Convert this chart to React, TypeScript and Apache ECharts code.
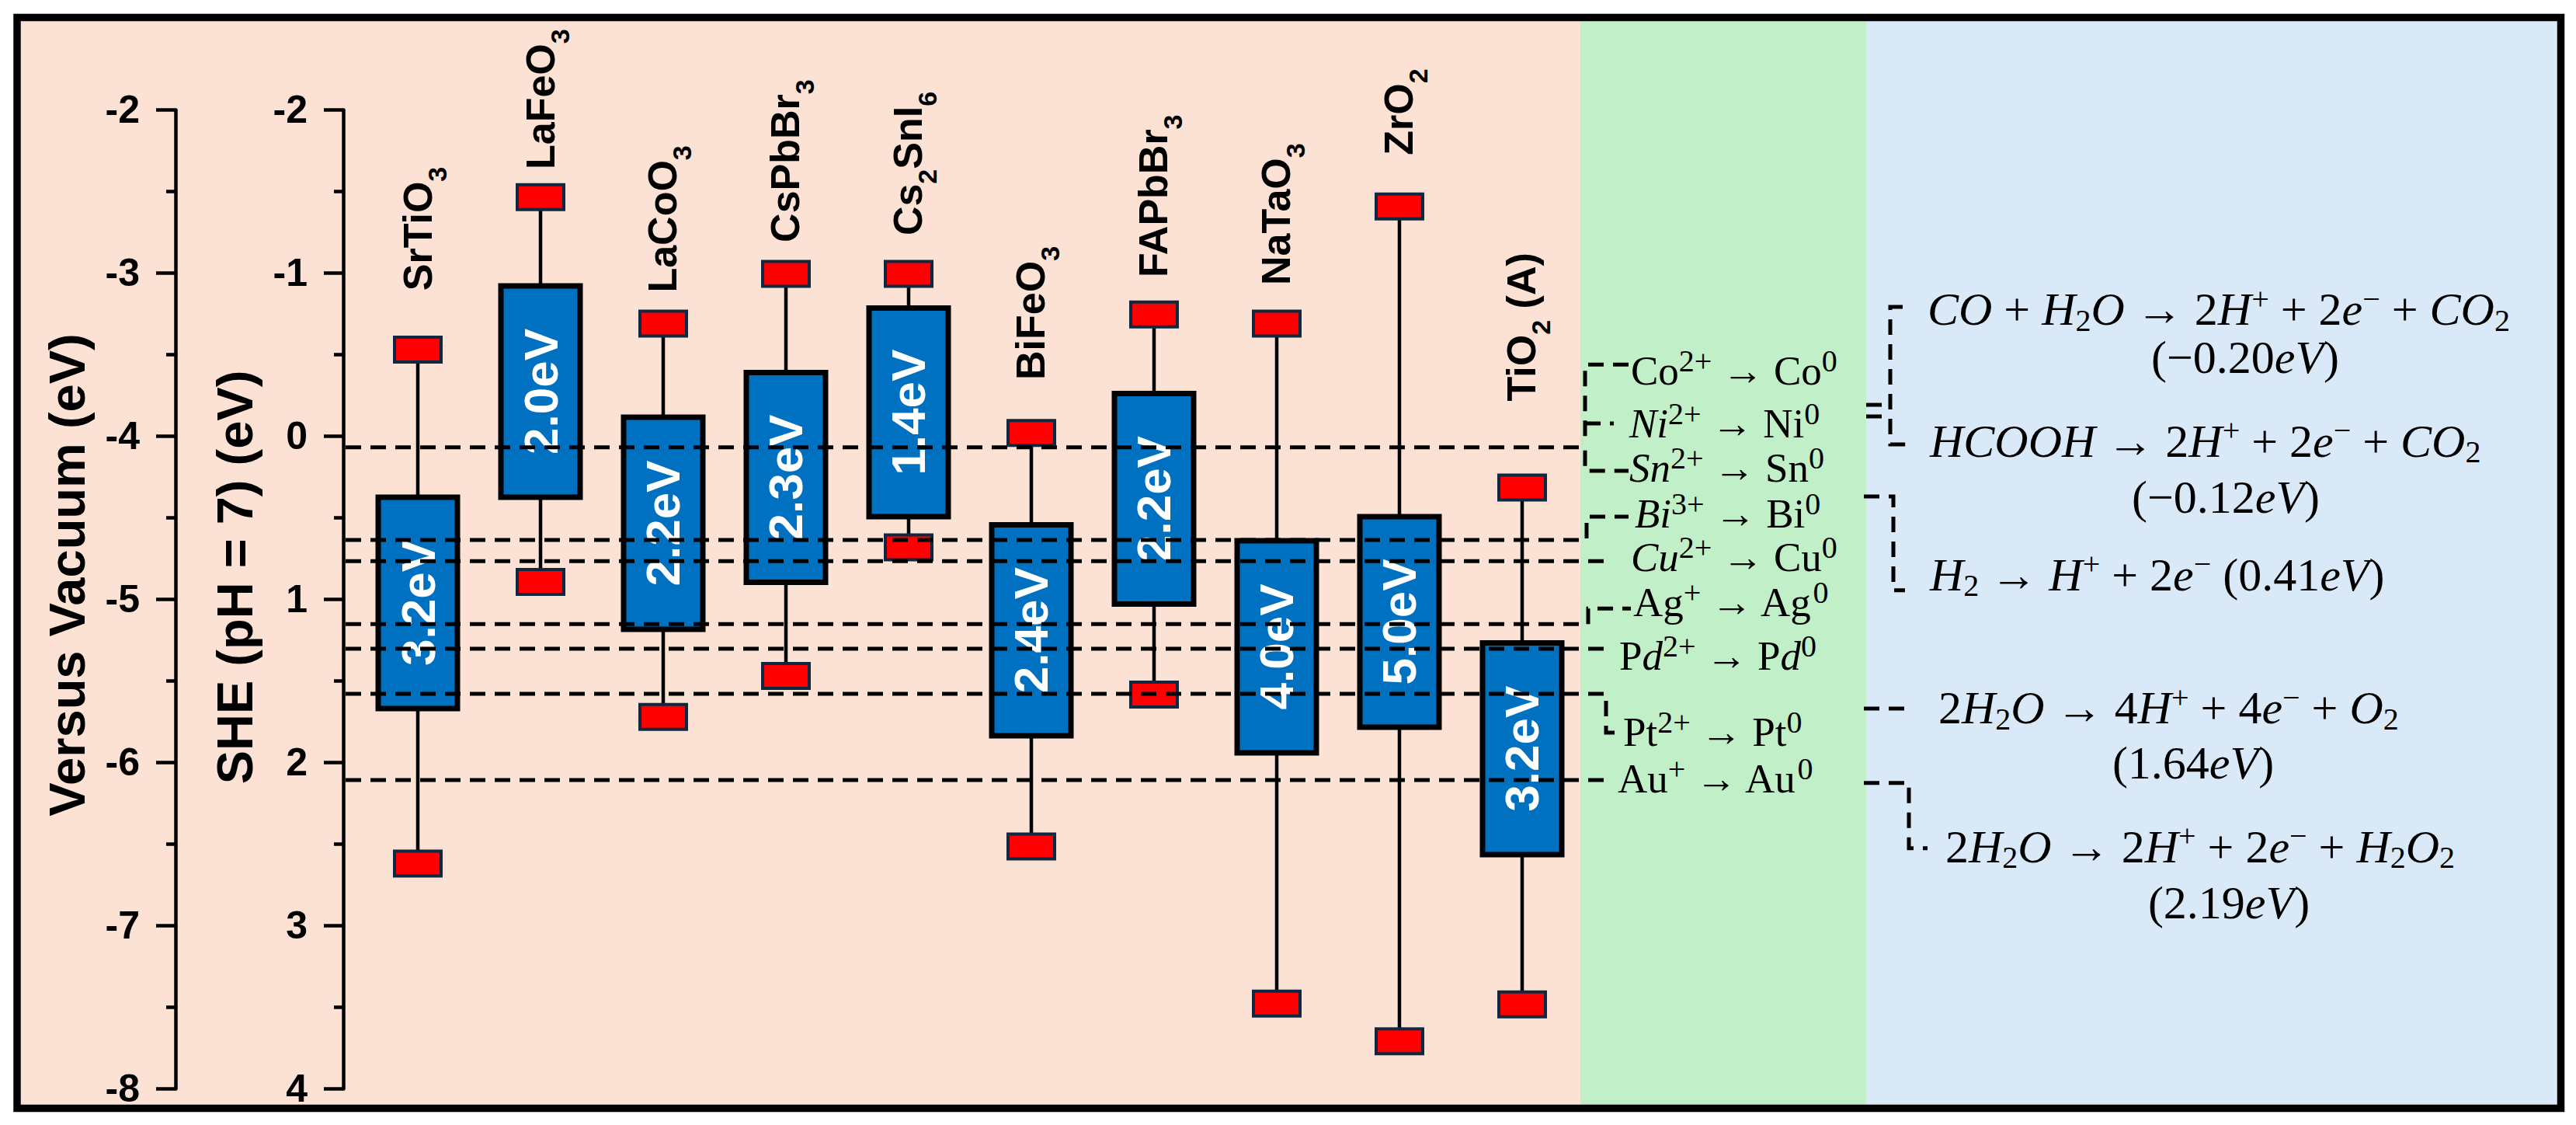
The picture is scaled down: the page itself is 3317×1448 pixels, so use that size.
import React, { useEffect, useRef } from 'react';
import * as echarts from 'echarts';

// ---------------- data (potentials in V vs SHE, pH = 7) ----------------
const CATEGORIES = ['SrTiO3', 'LaFeO3', 'LaCoO3', 'CsPbBr3', 'Cs2SnI6', 'BiFeO3', 'FAPbBr3', 'NaTaO3', 'ZrO2', 'TiO2 (A)'];
const GAP_LABELS = ['3.2eV', '2.0eV', '2.2eV', '2.3eV', '1.4eV', '2.4eV', '2.2eV', '4.0eV', '5.0eV', '3.2eV'];
// upper red marker
const EDGE_TOP = [-0.53, -1.465, -0.69, -0.995, -0.995, -0.02, -0.746, -0.69, -1.408, 0.315];
// blue box limits
const BOX_TOP = [0.374, -0.921, -0.116, -0.39, -0.785, 0.543, -0.261, 0.641, 0.493, 1.267];
const BOX_BOTTOM = [1.67, 0.374, 1.184, 0.896, 0.493, 1.836, 1.029, 1.941, 1.784, 2.565];
// lower red marker
const EDGE_BOTTOM = [2.62, 0.893, 1.721, 1.47, 0.681, 2.515, 1.584, 3.478, 3.709, 3.483];

const SHE_MIN = -2;
const SHE_MAX = 4;
const VAC_MIN = -8;
const VAC_MAX = -2;
const TICK_STEP = 1;

// dashed levels of the metal reduction couples (groups: Co/Ni/Sn, Bi, Cu, Ag, Pd, Pt, Au)
const COUPLE_LEVELS = [0.068, 0.636, 0.766, 1.152, 1.303, 1.579, 2.108];
const METAL_COUPLES = [
  '{m|Co}{p|2+}{m| → Co}{p|0}',
  '{i|Ni}{p|2+}{m| → Ni}{p|0}',
  '{i|Sn}{p|2+}{m| → Sn}{p|0}',
  '{i|Bi}{p|3+}{m| → Bi}{p|0}',
  '{i|Cu}{p|2+}{m| → Cu}{p|0}',
  '{m|Ag}{p|+}{m| → Ag}{p|0}',
  '{m|P}{i|d}{p|2+}{m| → P}{i|d}{p|0}',
  '{m|Pt}{p|2+}{m| → Pt}{p|0}',
  '{m|Au}{p|+}{m| → Au}{p|0}',
];

// oxidation half reactions (CO, HCOOH, H2, O2, H2O2) and the dashed levels leading to them
const REACTION_LEVELS = [-0.192, -0.121, 0.369, 1.669, 2.126];
const REACTIONS = [
  '{i|CO}{m| + }{i|H}{b|2}{i|O}{m| → 2}{i|H}{p|+}{m| + 2}{i|e}{p|−}{m| + }{i|CO}{b|2}',
  '{i|HCOOH}{m| → 2}{i|H}{p|+}{m| + 2}{i|e}{p|−}{m| + }{i|CO}{b|2}',
  '{i|H}{b|2}{m| → }{i|H}{p|+}{m| + 2}{i|e}{p|−}{m| (0.41}{i|eV}{m|)}',
  '{m|2}{i|H}{b|2}{i|O}{m| → 4}{i|H}{p|+}{m| + 4}{i|e}{p|−}{m| + }{i|O}{b|2}',
  '{m|2}{i|H}{b|2}{i|O}{m| → 2}{i|H}{p|+}{m| + 2}{i|e}{p|−}{m| + }{i|H}{b|2}{i|O}{b|2}',
];
const REACTION_POTENTIALS = ['{m|(−0.20}{i|eV}{m|)}', '{m|(−0.12}{i|eV}{m|)}', '', '{m|(1.64}{i|eV}{m|)}', '{m|(2.19}{i|eV}{m|)}'];

// ---------------- layout ----------------
const WIDTH = 3317;
const HEIGHT = 1448;
const GRID_LEFT = 442;
const GRID_TOP = 141.4;
const GRID_W = 1593;
const GRID_H = 1260;
const X_MIN = -0.6076;
const X_MAX = 9.4747;
const VAC_AXIS_OFFSET = 216;
const PINK_END = 2035;
const GREEN_END = 2403;
const LABEL_BASE = [-0.891, -1.635, -0.88, -1.188, -1.23, -0.345, -0.973, -0.926, -1.722, -0.214];

const METAL_X = [2100, 2098, 2098, 2105, 2100, 2103, 2085, 2090, 2083];
const METAL_BASE = [-0.316, 0.006, 0.278, 0.559, 0.828, 1.104, 1.43, 1.898, 2.183];
// route of each couple line after it leaves the axis: [x px, SHE or null = own level]
const COUPLE_ROUTES: Array<Array<[number, number | null]>> = [
  [[2041, null], [2041, 0.212], [2097, 0.212]],
  [[2043, null], [2043, 0.493], [2097, 0.493]],
  [[2072, null]],
  [[2045, null], [2045, 1.057], [2100, 1.057]],
  [[2072, null]],
  [[2068, null], [2068, 1.817], [2090, 1.817]],
  [[2072, null]],
];
const METAL_BRACKETS: Array<Array<[number, number]>> = [
  [[2097, -0.439], [2041, -0.439], [2041, 0.008]],
  [[2041, -0.078], [2078, -0.078]],
];
const REACTION_ROUTES: Array<Array<[number, number | null]>> = [
  [[2403, null], [2423, null]],
  [[2403, null], [2423, null]],
  [[2400, null], [2438, null], [2438, 0.945], [2453, 0.945]],
  [[2400, null], [2453, null]],
  [[2400, null], [2458, null], [2458, 2.526], [2482, 2.526]],
];
const REACTION_BRACKETS: Array<Array<[number, number]>> = [
  [[2450, -0.792], [2434, -0.792], [2434, 0.05], [2455, 0.05]],
];
const REACTION_X = [2482, 2485, 2485, 2496, 2505];
const REACTION_BASE = [-0.681, 0.127, 0.946, 1.763, 2.612];
const POTENTIAL_CX = [2891, 2866, 0, 2824, 2870];
const POTENTIAL_BASE = [-0.385, 0.47, 0, 2.098, 2.955];

const SANS = 'Liberation Sans';
const SERIF = 'Liberation Serif';

const toRichFormula = (name: string) =>
  name
    .split(/(\d+)/)
    .filter((p) => p.length > 0)
    .map((p) => (/^\d+$/.test(p) ? `{s|${p}}` : `{m|${p}}`))
    .join('');

const labelRich = {
  m: { fontFamily: SANS, fontWeight: 'bold', fontSize: 52, lineHeight: 52, padding: [0, 0, 16, 0], verticalAlign: 'bottom', fill: '#000' },
  s: { fontFamily: SANS, fontWeight: 'bold', fontSize: 34, lineHeight: 34, verticalAlign: 'bottom', fill: '#000' },
};

const M_F = 53;
const M_P = 40;
const metalRich = {
  m: { fontFamily: SERIF, fontSize: M_F, lineHeight: M_F, padding: [0, 0, 8, 0], verticalAlign: 'bottom', fill: '#000' },
  i: { fontFamily: SERIF, fontStyle: 'italic', fontSize: M_F, lineHeight: M_F, padding: [0, 0, 8, 0], verticalAlign: 'bottom', fill: '#000' },
  p: { fontFamily: SERIF, fontSize: M_P, lineHeight: M_P, padding: [0, 0, 27, 0], verticalAlign: 'bottom', fill: '#000' },
};
const M_SHIFT = 8 + 0.1625 * M_F;

const E_F = 60;
const eqRich = {
  m: { fontFamily: SERIF, fontSize: E_F, lineHeight: E_F, padding: [0, 0, 8, 0], verticalAlign: 'bottom', fill: '#000' },
  i: { fontFamily: SERIF, fontStyle: 'italic', fontSize: E_F, lineHeight: E_F, padding: [0, 0, 8, 0], verticalAlign: 'bottom', fill: '#000' },
  p: { fontFamily: SERIF, fontSize: 40, lineHeight: 40, padding: [0, 0, 32, 0], verticalAlign: 'bottom', fill: '#000' },
  b: { fontFamily: SERIF, fontSize: 40, lineHeight: 40, padding: [0, 0, 4, 0], verticalAlign: 'bottom', fill: '#000' },
};
const E_SHIFT = 8 + 0.1625 * E_F;

const DASH = { stroke: '#000', lineWidth: 5, lineDash: [20, 12], fill: 'none' };

function renderBand(params: any, api: any) {
  const i = params.dataIndex;
  const xi = api.value(0);
  const top = api.coord([xi, api.value(1)]);
  const cx = top[0];
  const yT = top[1];
  const yBT = api.coord([xi, api.value(2)])[1];
  const yBB = api.coord([xi, api.value(3)])[1];
  const yB = api.coord([xi, api.value(4)])[1];
  const yLab = api.coord([xi, LABEL_BASE[i]])[1];
  const cap = (y: number) => ({
    type: 'rect',
    shape: { x: cx - 30, y: y - 16, width: 60, height: 32 },
    style: { fill: '#FF0000', stroke: '#0E2841', lineWidth: 4 },
  });
  return {
    type: 'group',
    children: [
      { type: 'line', shape: { x1: cx, y1: yT, x2: cx, y2: yB }, style: { stroke: '#000', lineWidth: 4.5 } },
      {
        type: 'rect',
        shape: { x: cx - 51, y: yBT, width: 102, height: yBB - yBT },
        style: { fill: '#0070C0', stroke: '#000', lineWidth: 7 },
      },
      cap(yT),
      cap(yB),
      {
        type: 'text',
        x: cx,
        y: (yBT + yBB) / 2,
        rotation: Math.PI / 2,
        style: {
          text: GAP_LABELS[i],
          fill: '#fff',
          fontFamily: SANS,
          fontWeight: 'bold',
          fontSize: 62,
          align: 'center',
          verticalAlign: 'middle',
          textAlign: 'center',
          textVerticalAlign: 'middle',
        },
      },
      {
        type: 'text',
        x: cx + 41.5,
        y: yLab,
        rotation: Math.PI / 2,
        style: {
          text: toRichFormula(CATEGORIES[i]),
          rich: labelRich,
          fill: '#000',
          fontFamily: SANS,
          fontWeight: 'bold',
          fontSize: 52,
          align: 'left',
          verticalAlign: 'bottom',
          textAlign: 'left',
          textVerticalAlign: 'bottom',
        },
      },
    ],
  };
}

function renderAnnotations(params: any, api: any) {
  const yOf = (v: number) => api.coord([0, v])[1];
  const axisX = api.coord([X_MIN, 0])[0];
  const children: any[] = [];
  const poly = (pts: number[][]) => children.push({ type: 'polyline', shape: { points: pts }, style: DASH });

  COUPLE_LEVELS.forEach((lv, k) => {
    const pts: number[][] = [[axisX + 3, yOf(lv)]];
    COUPLE_ROUTES[k].forEach(([x, v]) => pts.push([x, yOf(v == null ? lv : v)]));
    poly(pts);
  });
  METAL_BRACKETS.forEach((route) => poly(route.map(([x, v]) => [x, yOf(v)])));
  REACTION_LEVELS.forEach((lv, k) => {
    poly(REACTION_ROUTES[k].map(([x, v]) => [x, yOf(v == null ? lv : v)]));
  });
  REACTION_BRACKETS.forEach((route) => poly(route.map(([x, v]) => [x, yOf(v)])));

  METAL_COUPLES.forEach((t, k) => {
    children.push({
      type: 'text',
      x: METAL_X[k],
      y: yOf(METAL_BASE[k]) + M_SHIFT,
      style: {
        text: t,
        rich: metalRich,
        fill: '#000',
        fontFamily: SERIF,
        fontSize: M_F,
        align: 'left',
        verticalAlign: 'bottom',
        textAlign: 'left',
        textVerticalAlign: 'bottom',
      },
    });
  });
  REACTIONS.forEach((t, k) => {
    children.push({
      type: 'text',
      x: REACTION_X[k],
      y: yOf(REACTION_BASE[k]) + E_SHIFT,
      style: {
        text: t,
        rich: eqRich,
        fill: '#000',
        fontFamily: SERIF,
        fontSize: E_F,
        align: 'left',
        verticalAlign: 'bottom',
        textAlign: 'left',
        textVerticalAlign: 'bottom',
      },
    });
    if (REACTION_POTENTIALS[k]) {
      children.push({
        type: 'text',
        x: POTENTIAL_CX[k],
        y: yOf(POTENTIAL_BASE[k]) + E_SHIFT,
        style: {
          text: REACTION_POTENTIALS[k],
          rich: eqRich,
          fill: '#000',
          fontFamily: SERIF,
          fontSize: E_F,
          align: 'center',
          verticalAlign: 'bottom',
          textAlign: 'center',
          textVerticalAlign: 'bottom',
        },
      });
    }
  });
  return { type: 'group', children };
}

const axisCommon = {
  type: 'value',
  interval: TICK_STEP,
  position: 'left',
  axisLine: { show: true, onZero: false, lineStyle: { color: '#000', width: 4.5 } },
  axisTick: { show: true, inside: false, length: 25, lineStyle: { color: '#000', width: 4.5 } },
  minorTick: { show: true, splitNumber: 2, length: 12, lineStyle: { color: '#000', width: 4.5 } },
  splitLine: { show: false },
  minorSplitLine: { show: false },
  axisLabel: { margin: 46, color: '#000', fontSize: 50, fontWeight: 'bold', fontFamily: SANS },
};

export default function App() {
  const ref = useRef<HTMLDivElement>(null);
  useEffect(() => {
    if (!ref.current) return;
    const chart = echarts.init(ref.current, undefined, { renderer: 'svg', width: WIDTH, height: HEIGHT });
    const titleStyle = {
      fill: '#000',
      fontFamily: SANS,
      fontWeight: 'bold',
      fontSize: 65,
      align: 'center',
      verticalAlign: 'middle',
      textAlign: 'center',
      textVerticalAlign: 'middle',
    };
    const option: any = {
      animation: false,
      backgroundColor: '#ffffff',
      grid: { left: GRID_LEFT, top: GRID_TOP, width: GRID_W, height: GRID_H },
      xAxis: { type: 'value', min: X_MIN, max: X_MAX, show: false },
      yAxis: [
        { ...axisCommon, min: SHE_MIN, max: SHE_MAX, inverse: true, offset: 0 },
        { ...axisCommon, min: VAC_MIN, max: VAC_MAX, inverse: false, offset: VAC_AXIS_OFFSET },
      ],
      series: [
        {
          type: 'custom',
          name: 'bands',
          coordinateSystem: 'cartesian2d',
          xAxisIndex: 0,
          yAxisIndex: 0,
          clip: false,
          z: 3,
          data: CATEGORIES.map((_, i) => [i, EDGE_TOP[i], BOX_TOP[i], BOX_BOTTOM[i], EDGE_BOTTOM[i]]),
          encode: { x: 0, y: [1, 2, 3, 4] },
          renderItem: renderBand,
        },
        {
          type: 'custom',
          name: 'levels',
          coordinateSystem: 'cartesian2d',
          xAxisIndex: 0,
          yAxisIndex: 0,
          clip: false,
          z: 4,
          data: [[0, 0]],
          encode: { x: 0, y: 1 },
          renderItem: renderAnnotations,
        },
      ],
      graphic: [
        { type: 'rect', z: -10, shape: { x: 27, y: 27, width: PINK_END - 27, height: 1395 }, style: { fill: '#FBE2D5' } },
        { type: 'rect', z: -10, shape: { x: PINK_END, y: 27, width: GREEN_END - PINK_END, height: 1395 }, style: { fill: '#C1F0C8' } },
        { type: 'rect', z: -10, shape: { x: GREEN_END, y: 27, width: 3293 - GREEN_END, height: 1395 }, style: { fill: '#DAE9F8' } },
        {
          type: 'rect',
          z: 100,
          shape: { x: 22, y: 22.5, width: 3275.5, height: 1404 },
          style: { fill: 'none', stroke: '#000', lineWidth: 9.5 },
        },
        { type: 'text', z: 10, x: 86, y: 740, rotation: Math.PI / 2, style: { ...titleStyle, text: 'Versus Vacuum (eV)' } },
        { type: 'text', z: 10, x: 302, y: 743, rotation: Math.PI / 2, style: { ...titleStyle, text: 'SHE (pH = 7) (eV)' } },
      ],
    };
    chart.setOption(option);
    return () => chart.dispose();
  }, []);
  return <div ref={ref} style={{ position: 'fixed', left: 0, top: 0, width: WIDTH, height: HEIGHT }} />;
}
